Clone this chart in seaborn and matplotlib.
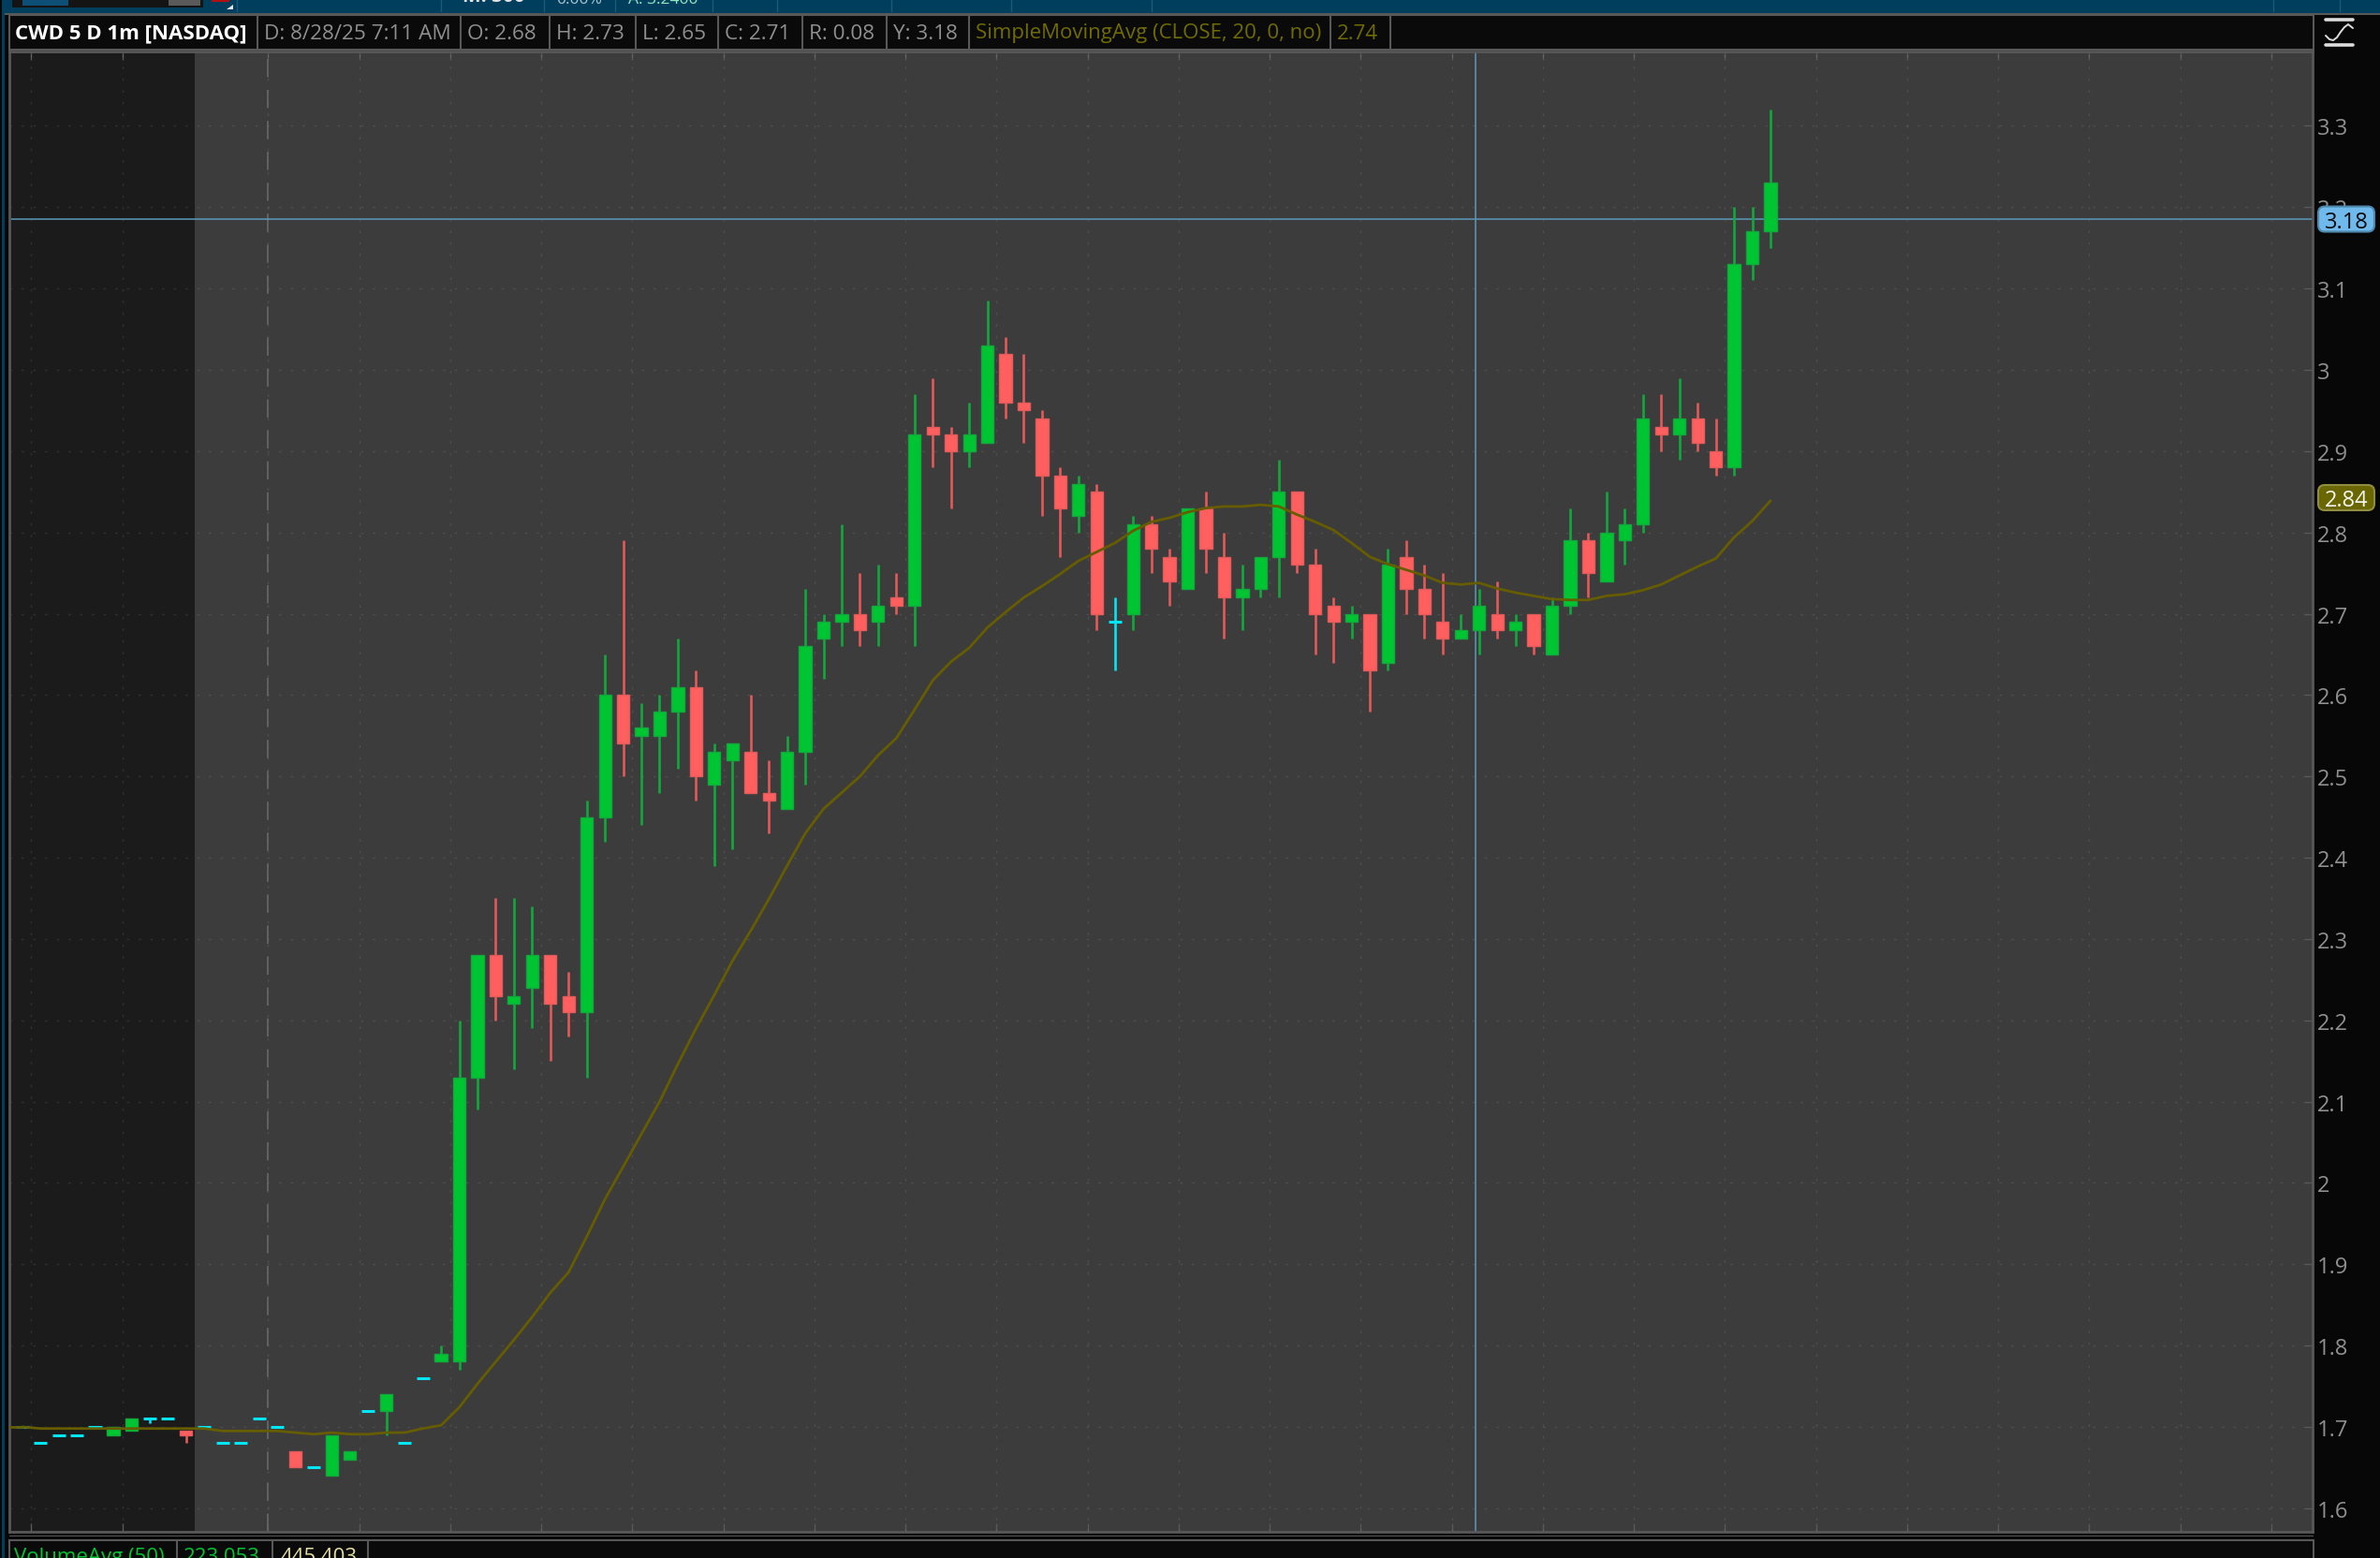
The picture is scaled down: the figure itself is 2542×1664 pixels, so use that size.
import numpy as np
import pandas as pd
import matplotlib
matplotlib.use('Agg')
import matplotlib.pyplot as plt
from matplotlib.patches import FancyBboxPatch, Polygon, Rectangle
from matplotlib.transforms import ScaledTranslation
import seaborn as sns

# one entry per 1 minute bar
opens = [1.70, 1.68, 1.69, 1.69, 1.70, 1.69, 1.695, 1.71, 1.71, 1.695,
         1.70, 1.68, 1.68, 1.71, 1.70, 1.67, 1.65, 1.64, 1.66, 1.72,
         1.72, 1.68, 1.76, 1.78, 1.78, 2.13, 2.28, 2.22, 2.24, 2.28,
         2.23, 2.21, 2.45, 2.60, 2.55, 2.55, 2.58, 2.61, 2.49, 2.52,
         2.53, 2.48, 2.46, 2.53, 2.67, 2.69, 2.70, 2.69, 2.72, 2.71,
         2.93, 2.92, 2.90, 2.91, 3.02, 2.96, 2.94, 2.87, 2.82, 2.85,
         2.69, 2.70, 2.81, 2.77, 2.73, 2.83, 2.77, 2.72, 2.73, 2.77,
         2.85, 2.76, 2.71, 2.69, 2.70, 2.64, 2.77, 2.73, 2.69, 2.67,
         2.68, 2.70, 2.68, 2.70, 2.65, 2.71, 2.79, 2.74, 2.79, 2.81,
         2.93, 2.92, 2.94, 2.90, 2.88, 3.13, 3.17]
highs = [1.70, 1.68, 1.69, 1.69, 1.70, 1.70, 1.71, 1.71, 1.71, 1.695,
         1.70, 1.68, 1.68, 1.71, 1.70, 1.67, 1.65, 1.69, 1.67, 1.72,
         1.74, 1.68, 1.76, 1.80, 2.20, 2.28, 2.35, 2.35, 2.34, 2.28,
         2.26, 2.47, 2.65, 2.79, 2.59, 2.60, 2.67, 2.63, 2.54, 2.54,
         2.60, 2.52, 2.55, 2.73, 2.70, 2.81, 2.75, 2.76, 2.75, 2.97,
         2.99, 2.93, 2.96, 3.085, 3.04, 3.02, 2.95, 2.88, 2.87, 2.86,
         2.72, 2.82, 2.82, 2.78, 2.83, 2.85, 2.80, 2.76, 2.77, 2.89,
         2.85, 2.78, 2.72, 2.71, 2.70, 2.78, 2.79, 2.76, 2.75, 2.70,
         2.73, 2.74, 2.70, 2.70, 2.72, 2.83, 2.80, 2.85, 2.83, 2.97,
         2.97, 2.99, 2.96, 2.94, 3.20, 3.20, 3.32]
lows = [1.70, 1.68, 1.69, 1.69, 1.70, 1.69, 1.695, 1.705, 1.71, 1.68,
        1.70, 1.68, 1.68, 1.71, 1.70, 1.65, 1.65, 1.64, 1.66, 1.72,
        1.69, 1.68, 1.76, 1.78, 1.77, 2.09, 2.20, 2.14, 2.19, 2.15,
        2.18, 2.13, 2.42, 2.50, 2.44, 2.48, 2.51, 2.47, 2.39, 2.41,
        2.48, 2.43, 2.46, 2.49, 2.62, 2.66, 2.66, 2.66, 2.70, 2.66,
        2.88, 2.83, 2.88, 2.91, 2.94, 2.91, 2.82, 2.77, 2.80, 2.68,
        2.63, 2.68, 2.75, 2.71, 2.73, 2.75, 2.67, 2.68, 2.72, 2.72,
        2.75, 2.65, 2.64, 2.67, 2.58, 2.63, 2.70, 2.67, 2.65, 2.67,
        2.65, 2.67, 2.66, 2.65, 2.65, 2.70, 2.72, 2.74, 2.76, 2.80,
        2.90, 2.89, 2.90, 2.87, 2.87, 3.11, 3.15]
closes = [1.70, 1.68, 1.69, 1.69, 1.70, 1.70, 1.71, 1.71, 1.71, 1.69,
          1.70, 1.68, 1.68, 1.71, 1.70, 1.65, 1.65, 1.69, 1.67, 1.72,
          1.74, 1.68, 1.76, 1.79, 2.13, 2.28, 2.23, 2.23, 2.28, 2.22,
          2.21, 2.45, 2.60, 2.54, 2.56, 2.58, 2.61, 2.50, 2.53, 2.54,
          2.48, 2.47, 2.53, 2.66, 2.69, 2.70, 2.68, 2.71, 2.71, 2.92,
          2.92, 2.90, 2.92, 3.03, 2.96, 2.95, 2.87, 2.83, 2.86, 2.70,
          2.69, 2.81, 2.78, 2.74, 2.83, 2.78, 2.72, 2.73, 2.77, 2.85,
          2.76, 2.70, 2.69, 2.70, 2.63, 2.76, 2.73, 2.70, 2.67, 2.68,
          2.71, 2.68, 2.69, 2.66, 2.71, 2.79, 2.75, 2.80, 2.81, 2.94,
          2.92, 2.94, 2.91, 2.88, 3.13, 3.17, 3.23]
sma_20 = [1.70, 1.698, 1.698, 1.698, 1.698, 1.698, 1.698, 1.698, 1.698, 1.698,
          1.698, 1.695, 1.695, 1.695, 1.695, 1.693, 1.691, 1.693, 1.691, 1.691,
          1.693, 1.693, 1.698, 1.702, 1.724, 1.753, 1.78, 1.807, 1.835, 1.865,
          1.89, 1.934, 1.98, 2.02, 2.06, 2.10, 2.146, 2.19, 2.231, 2.273,
          2.31, 2.349, 2.39, 2.43, 2.46, 2.48, 2.50, 2.526, 2.547, 2.582,
          2.618, 2.641, 2.658, 2.683, 2.702, 2.72, 2.734, 2.749, 2.765, 2.776,
          2.787, 2.802, 2.813, 2.818, 2.825, 2.83, 2.832, 2.832, 2.834, 2.832,
          2.822, 2.813, 2.803, 2.787, 2.77, 2.761, 2.754, 2.747, 2.738, 2.736,
          2.738, 2.731, 2.726, 2.722, 2.718, 2.717, 2.717, 2.722, 2.724, 2.729,
          2.736, 2.747, 2.758, 2.768, 2.794, 2.814, 2.839]

y_ticks = [1.6, 1.7, 1.8, 1.9, 2.0, 2.1, 2.2, 2.3, 2.4, 2.5, 2.6, 2.7, 2.8, 2.9, 3.0, 3.1, 3.2, 3.3]
y_tick_labels = ['1.6', '1.7', '1.8', '1.9', '2', '2.1', '2.2', '2.3', '2.4', '2.5', '2.6', '2.7',
                 '2.8', '2.9', '3', '3.1', '3.2', '3.3']
x_grid = [0.5, 5.5, 13.5, 18.5, 23.5, 28.5, 33.5, 38.5, 43.5, 48.5, 53.5, 58.5, 63.5, 68.5, 73.5,
          78.5, 83.5, 88.5, 93.5, 98.5, 103.5, 108.5, 113.5, 118.5, 123.5]
header_cells = ['D: 8/28/25 7:11 AM', 'O: 2.68', 'H: 2.73', 'L: 2.65', 'C: 2.71', 'R: 0.08', 'Y: 3.18']

W, H = 2542, 1664
BG = '#3c3c3c'
GREEN = '#00c532'
RED = '#ff5f5f'
CYAN = '#00e6f5'
OLIVE = '#665c00'
OLIVE_TXT = '#706c00'
FRAME = '#585858'
GRID = (1, 1, 1, 0.09)
TXT = '#8f8f8f'
STRIP = '#003e5e'

sns.set_theme(style='dark', rc={'axes.facecolor': BG, 'figure.facecolor': '#070707'})
plt.rcParams['font.family'] = ['Open Sans', 'DejaVu Sans']

df = pd.DataFrame({'o': opens, 'h': highs, 'l': lows, 'c': closes, 'sma': sma_20})
df['bar'] = np.arange(len(df))
up = df[df.c > df.o]
down = df[df.c < df.o]
doji = df[df.c == df.o]

fig = plt.figure(figsize=(W / 100, H / 100), dpi=100)
# pixel box of the price pane
ax = fig.add_axes([9.5 / W, 1 - 1636 / H, (2470 - 9.5) / W, (1636 - 55) / H])
ax.set_xlim(-0.73, 125.77)
ax.set_ylim(1.571, 3.3915)

ax.axvspan(-0.73, 9.5, color='#1b1b1b', lw=0, zorder=0)

for x in x_grid:
    ax.axvline(x, color=GRID, lw=1, dashes=(2, 7), zorder=1)
for y in y_ticks:
    ax.axhline(y, color=GRID, lw=1, dashes=(2, 7), zorder=1)
ax.axvline(13.5, color='#626262', lw=1.4, dashes=(10, 7), zorder=1)

# crosshair
ax.axvline(79.8, color='#5c97b8', lw=1.1, zorder=2)
ax.axhline(3.185, color='#5c97b8', lw=1.1, zorder=2)

# candles
for part, col, edge in [(up, GREEN, '#12a83c'), (down, RED, '#e25a5a')]:
    ax.vlines(part.bar, part.l, part.h, color=edge, lw=1.9, zorder=3)
    ax.bar(part.bar, (part.c - part.o).abs(), bottom=part[['o', 'c']].min(axis=1), width=0.68,
           color=col, edgecolor=edge, lw=1, zorder=4)
ax.vlines(doji.bar, doji.l, doji.h, color=CYAN, lw=1.9, zorder=3)
ax.hlines(doji.c, doji.bar - 0.36, doji.bar + 0.36, color=CYAN, lw=2.2, zorder=4)

sns.lineplot(data=df, x='bar', y='sma', color=OLIVE, lw=2, ax=ax, zorder=5, legend=False)
ax.plot([-0.73, 0], [sma_20[0], sma_20[0]], color=OLIVE, lw=2, zorder=5)

ax.set_xlabel('')
ax.set_ylabel('')
ax.yaxis.tick_right()
ax.set_yticks(y_ticks)
ax.set_yticklabels(y_tick_labels)
ax.set_xticks(x_grid)
ax.set_xticklabels([])
ax.xaxis.set_ticks_position('both')
ax.tick_params(axis='x', direction='in', length=6.5, width=1, color=FRAME, top=True, bottom=True)
ax.tick_params(axis='y', direction='in', length=6, width=1, color=FRAME, pad=3.5,
               labelsize=17, labelcolor=TXT, right=True)
for lab in ax.get_yticklabels():
    lab.set_transform(lab.get_transform() + ScaledTranslation(0, -1 / 100, fig.dpi_scale_trans))
for s in ax.spines.values():
    s.set_color(FRAME)
    s.set_linewidth(2)

# value pills on the price scale
ov = fig.add_axes([0, 0, 1, 1], zorder=10)
ov.set_xlim(0, W)
ov.set_ylim(H, 0)
ov.axis('off')


def pill(y, face, edge, text, col):
    ov.add_patch(FancyBboxPatch((2476, y - 13.5), 60, 27, boxstyle='round,pad=0,rounding_size=7',
                                fc=face, ec=edge, lw=1.5))
    ov.text(2506, y + 0.5, text, color=col, fontsize=17, ha='center', va='center_baseline')


pill(234, '#6fb9ec', '#4f88ad', '3.18', '#0a0a0a')
pill(531.5, '#6b6700', '#8f8d40', '2.84', '#f4f4f0')

# top strip of the platform
ov.add_patch(Rectangle((0, 0), W, 14, fc=STRIP, lw=0))
ov.add_patch(Rectangle((0, 14), W, 2, fc=FRAME, lw=0))
ov.add_patch(Rectangle((2, 0), 3, H, fc=STRIP, lw=0))
ov.add_patch(Rectangle((0, 0), 2, H, fc='#070707', lw=0))
ov.add_patch(Rectangle((13, 0), 204, 8, fc='#141414', lw=0))
ov.add_patch(Rectangle((24, 0), 49, 6, fc='#0e4f78', lw=0))
ov.add_patch(Rectangle((180, 0), 34, 6, fc='#5a5a5a', lw=0))
ov.add_patch(Rectangle((226, 0), 19, 2, fc='#b01010', lw=0))
ov.add_patch(Polygon([(249, 5), (249, 10), (242, 10)], fc='#e6e6e6', lw=0))
for sep in [253, 471, 581, 657, 761, 830, 952, 1080, 1230, 2428, 2499]:
    ov.plot([sep, sep], [0, 12], color='#1b5a7c', lw=1)
ov.text(527, -4, 'M: 300', color='#e4e4e4', fontsize=15, fontweight='bold', ha='center', va='center')
ov.text(619, 0.5, '0.00%', color='#a8c4d0', fontsize=12.5, ha='center', va='center')
ov.text(708, 0.5, 'A: 3.2400', color='#8fe8c0', fontsize=12.5, ha='center', va='center')

# header strip above the pane
ov.add_patch(Rectangle((9.5, 16), 2461, 37, fc='#0a0a0a', ec=FRAME, lw=1.5))
ov.text(16, 36, 'CWD 5 D 1m [NASDAQ]', color='white', fontsize=16, fontweight='bold', va='center')
edges = [275, 492, 587, 679, 767, 857, 947]
for x0, t in zip(edges, header_cells):
    ov.plot([x0, x0], [16, 53], color=FRAME, lw=1.5)
    ov.text(x0 + 7, 36, t, color=TXT, fontsize=16.2, va='center')
ov.plot([1035, 1035], [16, 53], color=FRAME, lw=1.5)
ov.text(1042, 36, 'SimpleMovingAvg (CLOSE, 20, 0, no)', color=OLIVE_TXT, fontsize=16, va='center')
ov.plot([1421, 1421], [16, 53], color=FRAME, lw=1.5)
ov.text(1428, 36, '2.74', color=OLIVE_TXT, fontsize=16, va='center')
ov.plot([1485, 1485], [16, 53], color=FRAME, lw=1.5)

# study icon, top right
ov.plot([2484, 2513], [21, 21], color='#dcdcdc', lw=2.6, solid_capstyle='round')
ov.plot([2484, 2513], [48, 48], color='#dcdcdc', lw=2.6, solid_capstyle='round')
ic_x = [2484, 2488, 2492, 2496, 2500, 2504, 2508, 2513]
ic_y = [38, 42, 43, 40, 34, 29, 26, 30]
ov.plot(ic_x, ic_y, color='#dcdcdc', lw=1.4)

# volume pane header, cut by the image edge
ov.add_patch(Rectangle((9.5, 1639.5), 2461, 1.5, fc=FRAME, lw=0))
ov.add_patch(Rectangle((9.5, 1645), 2461, 30, fc='#0a0a0a', ec=FRAME, lw=1.5))
ov.text(15, 1664, 'VolumeAvg (50)', color=GREEN, fontsize=16, va='center')
ov.plot([189, 189], [1645, H], color=FRAME, lw=1.5)
ov.text(196, 1664, '223,053', color=GREEN, fontsize=16, va='center')
ov.plot([291, 291], [1645, H], color=FRAME, lw=1.5)
ov.text(299, 1664, '445,403', color='#e6e0a0', fontsize=16, va='center')
ov.plot([393, 393], [1645, H], color=FRAME, lw=1.5)

fig.savefig('out.png', dpi=100, facecolor=fig.get_facecolor())
